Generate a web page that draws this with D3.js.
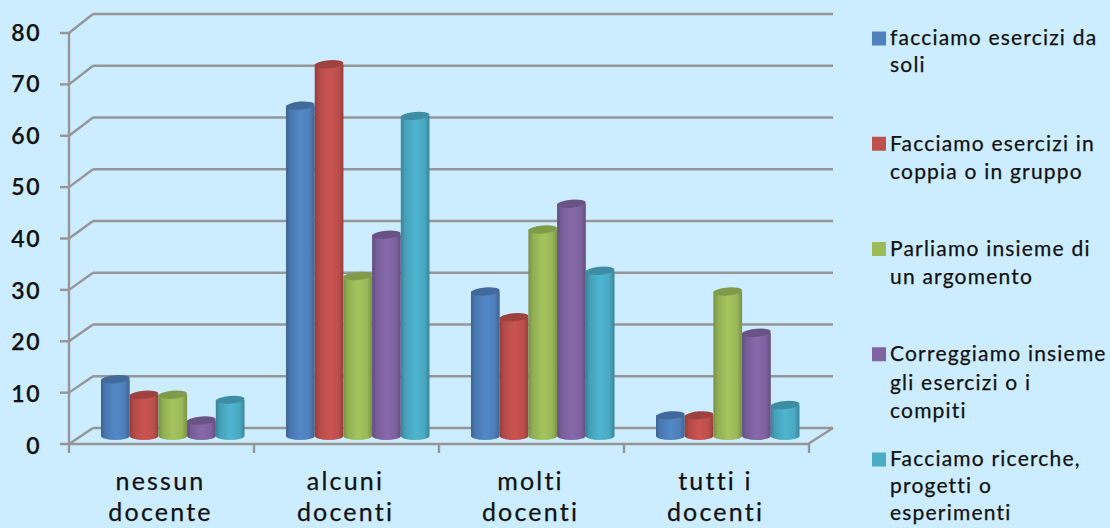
<!DOCTYPE html>
<html><head><meta charset="utf-8">
<script src="https://cdn.jsdelivr.net/npm/d3@7/dist/d3.min.js"></script>
<style>html,body{margin:0;padding:0;background:#CCECFF;overflow:hidden}text{font-family:"Lato","Noto Sans",sans-serif;fill:#111;stroke:#111;stroke-width:.25}</style>
</head><body><svg id="c" width="1110" height="528"></svg>
<script>
const categories=[["nessun","docente"],["alcuni","docenti"],["molti","docenti"],["tutti i","docenti"]];
const seriesNames=[["facciamo esercizi da","soli"],["Facciamo esercizi in","coppia o in gruppo"],["Parliamo insieme di","un argomento"],["Correggiamo insieme","gli esercizi o i","compiti"],["Facciamo ricerche,","progetti o","esperimenti"]];
const seriesColors=["#4F81BD","#C0504D","#9BBB59","#8064A2","#4BACC6"];
const s1=[11,64,28,4];
const s2=[8,72,23,4];
const s3=[8,31,40,28];
const s4=[3,39,45,20];
const s5=[7,62,32,6];
const allSeries=[s1,s2,s3,s4,s5];
const ticks=[0,10,20,30,40,50,60,70,80];

const svg=d3.select("#c");
const yFront=d3.scaleLinear().domain([0,80]).range([444,33]);
const yBack=d3.scaleLinear().domain([0,80]).range([428,14]);
const yBar=d3.scaleLinear().domain([0,80]).range([436,23]);
const yLabel=d3.scaleLinear().domain([0,80]).range([445.5,32.5]);
const x0=d3.scaleBand().domain(d3.range(4)).range([69,809]);
const x1=d3.scaleBand().domain(d3.range(5)).range([32,175.5]);
const grey="#969696";
const defs=svg.append("defs");
seriesColors.forEach((c,i)=>{
  const g=defs.append("linearGradient").attr("id","g"+i);
  const col=d3.color(c);
  [[0,col.darker(.75)],[.15,col.darker(.2)],[.5,col.brighter(.15)],[.82,col.darker(.05)],[1,col.darker(.7)]]
   .forEach(([o,k])=>g.append("stop").attr("offset",o).attr("stop-color",k.formatHex()));
});
const f=defs.append("filter").attr("id","soft").attr("x","-5%").attr("y","-20%").attr("width","110%").attr("height","140%");
f.append("feGaussianBlur").attr("stdDeviation",.45);

const gl=svg.append("g").attr("filter","url(#soft)").attr("stroke",grey).attr("stroke-width",2.4).attr("fill","none");
ticks.forEach(t=>{
  gl.append("line").attr("x1",93).attr("x2",833).attr("y1",yBack(t)).attr("y2",yBack(t));
  gl.append("line").attr("x1",69).attr("x2",93).attr("y1",yFront(t)).attr("y2",yBack(t));
  gl.append("line").attr("x1",60).attr("x2",69).attr("y1",yFront(t)).attr("y2",yFront(t));
});
gl.append("line").attr("x1",69).attr("x2",69).attr("y1",yFront(80)).attr("y2",yFront(0));
gl.append("line").attr("x1",69).attr("x2",808).attr("y1",yFront(0)).attr("y2",yFront(0));
gl.append("line").attr("x1",808).attr("x2",833).attr("y1",yFront(0)).attr("y2",yBack(0));
d3.range(5).forEach(i=>{
  const x=69+i*x0.bandwidth();
  gl.append("line").attr("x1",x).attr("x2",x).attr("y1",444).attr("y2",453);
});

const w=x1.bandwidth();
allSeries.forEach((vals,si)=>{
  const g=svg.append("g");
  vals.forEach((v,ci)=>{
    const x=x0(ci)+x1(si), cx=x+w/2, top=yBar(v), base=yBar(0);
    const rx=w/2, ry=4;
    g.append("path")
     .attr("d",`M${x},${top}L${x},${base}A${rx},${ry} 0 0 0 ${x+w},${base}L${x+w},${top}Z`)
     .attr("fill",`url(#g${si})`);
    g.append("ellipse").attr("cx",cx).attr("cy",top).attr("rx",rx).attr("ry",ry)
     .attr("transform",`rotate(-5 ${cx} ${top})`)
     .attr("fill",d3.color(seriesColors[si]).darker(.55).formatHex());
  });
});

svg.append("g").selectAll("text").data(ticks).join("text")
 .attr("x",41).attr("y",d=>yLabel(d)).attr("dy",".35em").attr("text-anchor","end")
 .attr("font-size",23).attr("font-weight",600).attr("letter-spacing",1.5).text(d=>d);

categories.forEach((lines,i)=>{
  lines.forEach((t,j)=>{
    svg.append("text").attr("x",x0(i)+x0.bandwidth()/2-1).attr("y",481+j*31).attr("dy",".35em")
     .attr("text-anchor","middle").attr("font-size",25).attr("letter-spacing",2.2).text(t);
  });
});

const legendY=d3.scaleLinear().domain([0,4]).range([38,459]);
const lineStep=[27,28,28,28.5,27];
seriesNames.forEach((lines,i)=>{
  const y=legendY(i);
  svg.append("rect").attr("x",872).attr("y",y-6.5).attr("width",14).attr("height",14).attr("fill",seriesColors[i]);
  lines.forEach((t,j)=>{
    svg.append("text").attr("x",890).attr("y",y+j*lineStep[i]).attr("dy",".35em")
     .attr("font-size",21).attr("letter-spacing",1.2).text(t);
  });
});
</script></body></html>
